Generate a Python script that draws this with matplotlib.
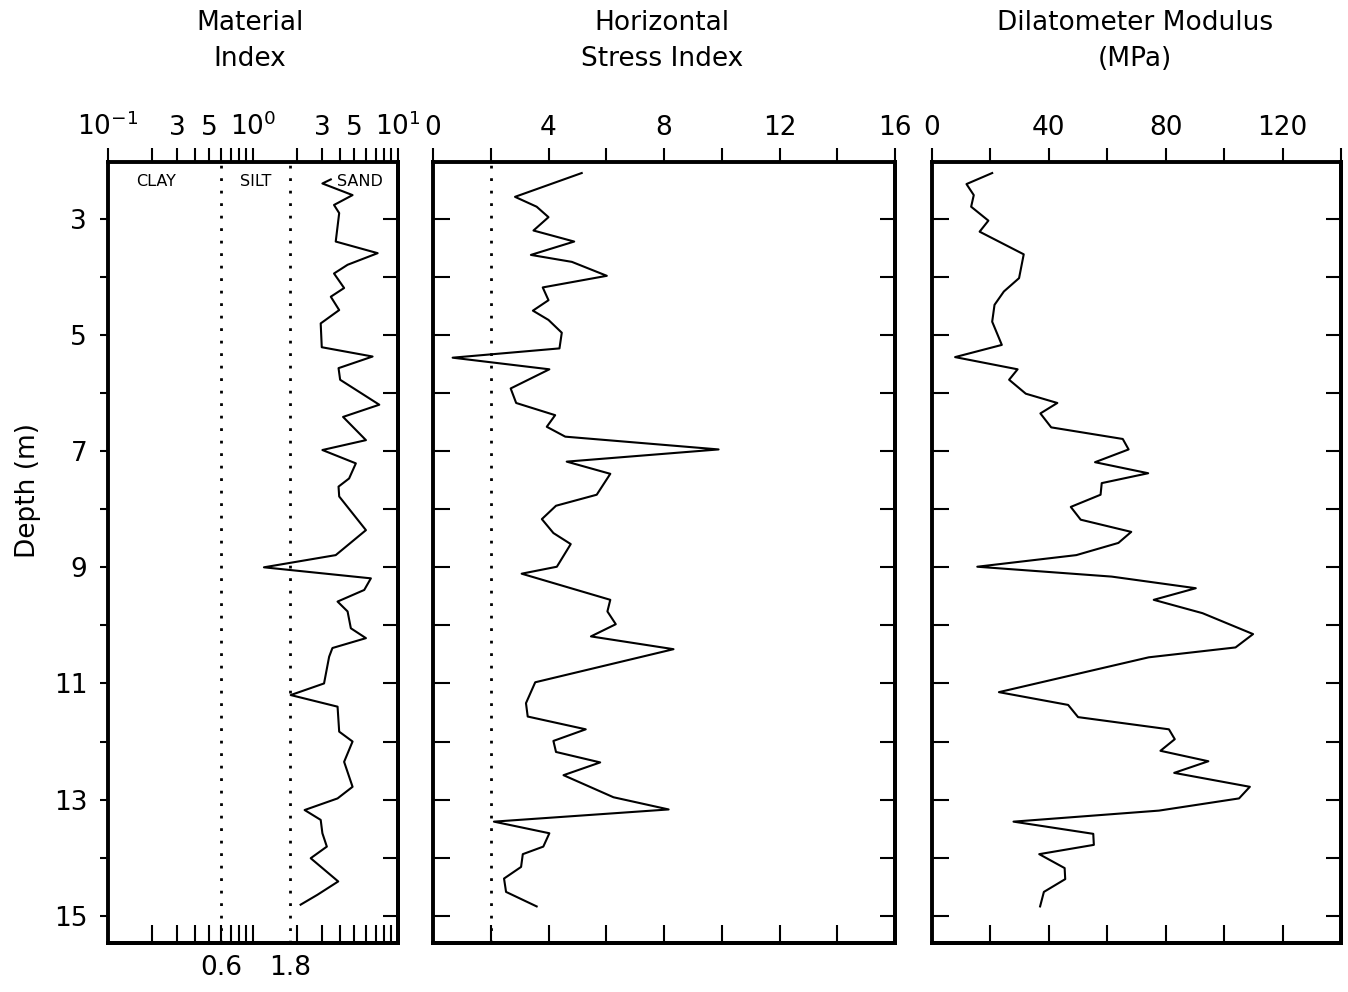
import matplotlib
matplotlib.use('Agg')
import matplotlib.pyplot as plt
from matplotlib.ticker import NullLocator
from matplotlib.transforms import blended_transform_factory

# ---------------- data ----------------
mi_depth = [2.32, 2.39, 2.59, 2.76, 2.90, 3.39, 3.59, 3.79, 3.94, 4.19, 4.34, 4.57,
            4.80, 5.21, 5.37, 5.57, 5.77, 6.20, 6.41, 6.81, 6.98, 7.21, 7.47, 7.61,
            7.78, 8.36, 8.79, 9.00, 9.19, 9.39, 9.59, 9.76, 10.05, 10.22, 10.39, 10.54,
            11.00, 11.20, 11.40, 11.83, 12.00, 12.35, 12.78, 12.98, 13.18, 13.35, 13.58,
            13.81, 14.01, 14.41, 14.64, 14.81]
mi_value = [3.44, 3.01, 4.86, 3.62, 3.93, 3.72, 7.24, 4.49, 3.62, 4.25, 3.44, 3.93,
            2.93, 2.98, 6.68, 3.89, 3.99, 7.43, 4.18, 6.01, 3.01, 5.12, 4.60, 3.89,
            3.93, 6.01, 3.72, 1.19, 6.50, 5.85, 3.83, 4.49, 4.73, 6.01, 3.53, 3.35,
            3.09, 1.82, 3.83, 3.93, 4.86, 4.25, 4.86, 3.83, 2.27, 2.93, 3.01,
            3.23, 2.50, 3.87, 2.78, 2.13]

kd_depth = [2.21, 2.62, 2.79, 2.97, 3.20, 3.39, 3.62, 3.74, 3.98, 4.18, 4.40, 4.58,
            4.74, 4.96, 5.23, 5.39, 5.59, 5.92, 6.17, 6.38, 6.58, 6.75, 6.97, 7.18,
            7.39, 7.75, 7.94, 8.17, 8.41, 8.60, 8.99, 9.11, 9.56, 9.76, 9.98, 10.19,
            10.41, 10.98, 11.34, 11.57, 11.79, 11.99, 12.18, 12.36, 12.58, 12.96, 13.17,
            13.38, 13.58, 13.81, 13.94, 14.16, 14.36, 14.59, 14.84]
kd_value = [5.15, 2.84, 3.59, 4.00, 3.48, 4.89, 3.39, 4.81, 6.02, 3.80, 4.00, 3.46,
            4.00, 4.46, 4.38, 0.68, 4.03, 2.69, 2.88, 4.23, 3.94, 4.58, 9.89, 4.63,
            6.14, 5.67, 4.26, 3.77, 4.17, 4.77, 4.29, 3.07, 6.14, 6.04, 6.33, 5.47,
            8.33, 3.54, 3.22, 3.28, 5.29, 4.17, 4.26, 5.79, 4.52, 6.25, 8.16,
            2.11, 4.03, 3.82, 3.11, 3.05, 2.46, 2.53, 3.59]

ed_depth = [2.21, 2.40, 2.59, 2.79, 3.03, 3.22, 3.61, 4.02, 4.25, 4.48, 4.77, 5.17,
            5.38, 5.59, 5.77, 6.01, 6.17, 6.35, 6.59, 6.79, 6.97, 7.19, 7.38, 7.55,
            7.75, 7.96, 8.18, 8.39, 8.58, 8.79, 8.99, 9.16, 9.36, 9.56, 9.79, 10.15,
            10.38, 10.55, 11.15, 11.37, 11.58, 11.79, 11.96, 12.16, 12.34, 12.54, 12.78,
            12.98, 13.19, 13.38, 13.59, 13.78, 13.94, 14.18, 14.37, 14.59, 14.84]
ed_value = [20.6, 11.8, 14.3, 13.4, 19.3, 16.3, 31.4, 29.8, 24.6, 21.4, 20.6, 23.9,
            7.9, 29.3, 26.4, 32.1, 42.9, 37.1, 40.8, 65.3, 67.3, 55.8, 74.0, 58.1,
            57.7, 47.5, 50.9, 68.2, 63.8, 49.4, 15.5, 61.5, 90.3, 75.9, 92.6, 109.9,
            103.9, 74.2, 22.9, 46.6, 50.0, 81.1, 83.1, 78.2, 94.6, 82.9, 108.8,
            105.1, 77.7, 27.9, 55.2, 55.4, 36.7, 45.4, 45.6, 38.3, 37.0]

mi_bounds = [0.6, 1.8]
mi_bound_labels = ['0.6', '1.8']
soil_names = ['CLAY', 'SILT', 'SAND']
kd_ref = 2.0

depth_ticks = list(range(3, 16))
depth_labels = [str(d) if d % 2 == 1 else '' for d in depth_ticks]

mi_ticks = [0.1, 0.2, 0.3, 0.4, 0.5, 0.6, 0.7, 0.8, 0.9,
            1, 2, 3, 4, 5, 6, 7, 8, 9, 10]
mi_labels = ['$10^{-1}$', '', '3', '', '5', '', '', '', '',
             '$10^{0}$', '', '3', '', '5', '', '', '', '', '$10^{1}$']
kd_ticks = [0, 2, 4, 6, 8, 10, 12, 14, 16]
kd_labels = ['0', '', '4', '', '8', '', '12', '', '16']
ed_ticks = [0, 20, 40, 60, 80, 100, 120, 140]
ed_labels = ['0', '', '40', '', '80', '', '120', '']

titles = ['Material\nIndex', 'Horizontal\nStress Index', 'Dilatometer Modulus\n(MPa)']
ylabel = 'Depth (m)'

# ---------------- figure ----------------
plt.rcParams['font.family'] = ['DejaVu Sans']
plt.rcParams['mathtext.fontset'] = 'dejavusans'

W, H = 1348, 992
fig = plt.figure(figsize=(W / 100, H / 100), dpi=100)


def box(l, r, t=162, b=943):
    return [l / W, 1 - b / H, (r - l) / W, (b - t) / H]


YLIM = (15.47, 2.02)
FS = 19
SPW = 2.8
TW = 1.5

ax1 = fig.add_axes(box(108, 398))
ax2 = fig.add_axes(box(433, 895))
ax3 = fig.add_axes(box(932, 1341))


def style(ax, xticks, xlabels, left_out):
    for s in ax.spines.values():
        s.set_linewidth(SPW)
    ax.set_ylim(*YLIM)
    # top ticks (outward, labelled)
    ax.xaxis.set_ticks_position('top')
    ax.set_xticks(xticks)
    ax.set_xticklabels(xlabels)
    ax.xaxis.set_minor_locator(NullLocator())
    ax.tick_params(axis='x', which='major', direction='out', length=10,
                   width=TW, labelsize=FS, pad=5)
    # bottom ticks (inward)
    sb = ax.secondary_xaxis('bottom')
    sb.set_xticks(xticks)
    sb.set_xticklabels([])
    sb.xaxis.set_minor_locator(NullLocator())
    sb.tick_params(axis='x', which='major', direction='in', length=13, width=TW)
    sb.spines['bottom'].set_linewidth(SPW)
    # right ticks (inward)
    sr = ax.secondary_yaxis('right')
    sr.set_yticks(depth_ticks)
    sr.set_yticklabels([])
    sr.yaxis.set_minor_locator(NullLocator())
    sr.tick_params(axis='y', direction='in', length=11, width=TW)
    sr.spines['right'].set_linewidth(SPW)
    # left ticks
    ax.set_yticks(depth_ticks)
    ax.yaxis.set_minor_locator(NullLocator())
    if left_out:
        ax.set_yticklabels(depth_labels)
        ax.tick_params(axis='y', direction='out', length=6, width=TW,
                       labelsize=FS, pad=9)
    else:
        ax.set_yticklabels([])
        ax.tick_params(axis='y', direction='in', length=12, width=TW)


dot = (0, (1, 3.5))

# Panel 1: Material index (log)
ax1.set_xscale('log')
ax1.set_xlim(0.1, 10)
ax1.plot(mi_value, mi_depth, color='k', lw=1.5)
for b in mi_bounds:
    ax1.axvline(b, color='k', ls=dot, lw=2)
style(ax1, mi_ticks, mi_labels, left_out=True)
ax1.set_xlim(0.1, 10)
bt = blended_transform_factory(ax1.transData, fig.transFigure)
for b, lab in zip(mi_bounds, mi_bound_labels):
    ax1.text(b, 1 - 968 / H, lab, transform=bt, ha='center', va='center',
             fontsize=FS)
ax1.text(0.215, 2.36, soil_names[0], ha='center', va='center', fontsize=11.5)
ax1.text(1.04, 2.36, soil_names[1], ha='center', va='center', fontsize=11.5)
ax1.text(3.78, 2.36, soil_names[2], ha='left', va='center', fontsize=11.5)

# Panel 2: Horizontal stress index
ax2.set_xlim(0, 16)
ax2.plot(kd_value, kd_depth, color='k', lw=1.5)
ax2.axvline(kd_ref, color='k', ls=dot, lw=2)
style(ax2, kd_ticks, kd_labels, left_out=False)
ax2.set_xlim(0, 16)

# Panel 3: Dilatometer modulus
ax3.set_xlim(0, 140)
ax3.plot(ed_value, ed_depth, color='k', lw=1.5)
style(ax3, ed_ticks, ed_labels, left_out=False)
ax3.set_xlim(0, 140)

# titles and labels
for xc, t in zip([250, 662, 1135], titles):
    fig.text(xc / W, 1 - 41 / H, t, ha='center', va='center', fontsize=FS,
             linespacing=1.45)
fig.text(28 / W, 1 - 490 / H, ylabel, rotation=90, ha='center', va='center',
         fontsize=FS)

fig.savefig('out.png', dpi=100)
